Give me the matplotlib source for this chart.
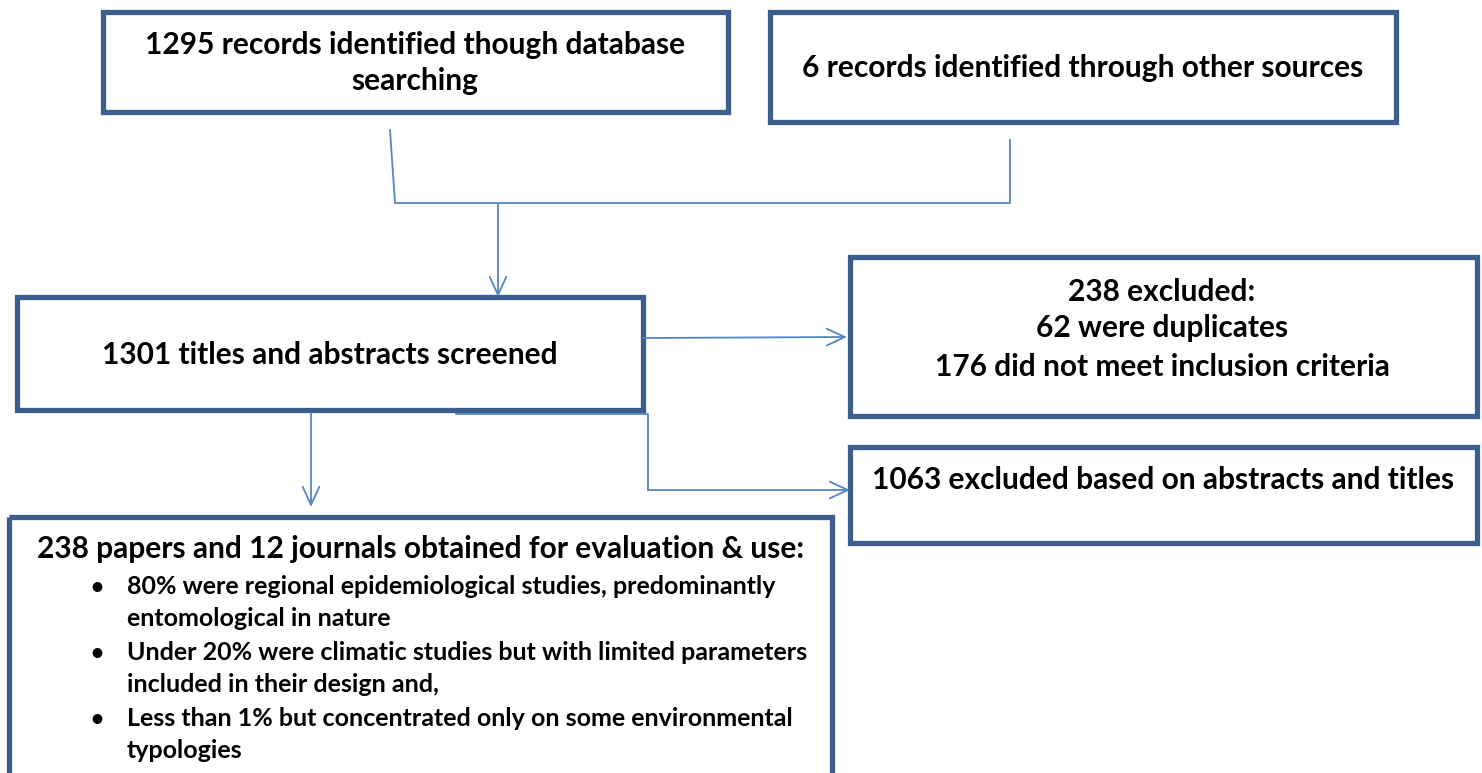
import matplotlib.pyplot as plt
from matplotlib.patches import Rectangle

# box texts
top_left_text = "1295 records identified though database\nsearching"
top_right_text = "6 records identified through other sources"
screened_text = "1301 titles and abstracts screened"
excluded_lines = ["238 excluded:", "62 were duplicates", "176 did not meet inclusion criteria"]
abstract_excl_text = "1063 excluded based on abstracts and titles"
final_title = "238 papers and 12 journals obtained for evaluation & use:"
final_bullets = [
    ["80% were regional epidemiological studies, predominantly", "entomological in nature"],
    ["Under 20% were climatic studies but with limited parameters", "included in their design and,"],
    ["Less than 1% but concentrated only on some environmental", "typologies"],
]

BOX = "#3B5E8C"
LINE = "#5585C5"
FONT = "Lato"

fig = plt.figure(figsize=(14.82, 7.73), dpi=100)
ax = fig.add_axes([0, 0, 1, 1])
ax.set_xlim(0, 1482)
ax.set_ylim(773, 0)
ax.axis('off')


def box(x0, y0, x1, y1):
    ax.add_patch(Rectangle((x0, y0), x1 - x0, y1 - y0, fill=False,
                           edgecolor=BOX, linewidth=3.8, joinstyle='miter', clip_on=False))


def line(xs, ys):
    ax.plot(xs, ys, color=LINE, linewidth=1.3, solid_joinstyle='miter')


def arrow(x0, y0, x1, y1):
    ax.annotate("", xy=(x1, y1), xytext=(x0, y0),
                arrowprops=dict(arrowstyle="->,head_length=1.3,head_width=0.6",
                                color=LINE, lw=1.3, shrinkA=0, shrinkB=0))


def txt(x, y, s, size=21.5, ha='center'):
    ax.text(x, y, s, ha=ha, va='center', fontsize=size, fontweight='bold',
            family=FONT, linespacing=1.35)


# boxes
box(103, 12, 728, 112)
box(770, 12, 1396, 122)
box(17, 297, 643, 410)
box(850, 257, 1477, 416)
box(850, 447, 1477, 543)
box(9, 517, 832, 790)

# connectors
line([390, 395, 1010, 1010], [130, 203, 203, 140])
arrow(498, 203, 498, 297)
arrow(643, 338, 847, 337)
line([456, 648, 648], [414, 414, 490])
arrow(648, 490, 850, 490)
arrow(311, 413, 311, 507)

# texts
txt(415, 63, top_left_text)
txt(1083, 68, top_right_text)
txt(330, 355, screened_text)
for y, s in zip([292, 328, 367], excluded_lines):
    txt(1162, y, s)
txt(1163, 480, abstract_excl_text)
txt(421, 549, final_title)

bullet_y = [587, 653, 719]
for y, pair in zip(bullet_y, final_bullets):
    ax.text(97, y, "\u2022", ha='center', va='center', fontsize=16, fontweight='bold', family=FONT)
    ax.text(127, y, pair[0], ha='left', va='center', fontsize=18, fontweight='bold', family=FONT)
    ax.text(127, y + 32, pair[1], ha='left', va='center', fontsize=18, fontweight='bold', family=FONT)

fig.savefig("out.png", dpi=100)
